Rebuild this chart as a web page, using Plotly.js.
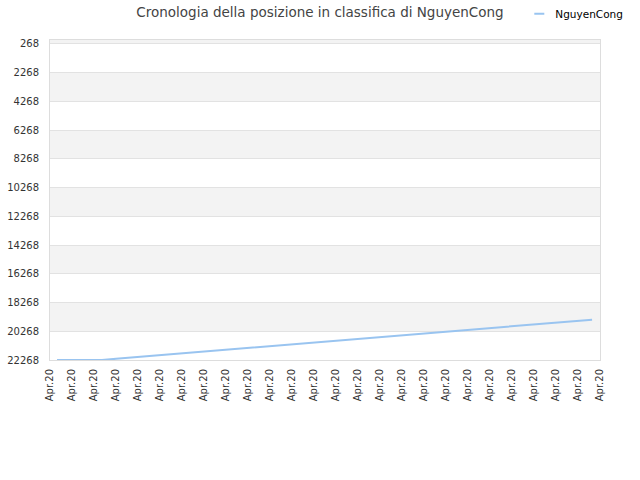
<!DOCTYPE html>
<html>
<head>
<meta charset="utf-8">
<script src="https://cdn.plot.ly/plotly-3.0.1.min.js"></script>
<style>
  html, body { margin: 0; padding: 0; background: #fff; }
  #chart { width: 640px; height: 480px; }
</style>
</head>
<body>
<div id="chart"></div>
<script>
// x positions are in tick-slot units (0 = first "Apr.20" label)
const pointX = [0.32, 2.36, 3, 4, 5, 6, 7, 8, 9, 10, 11, 12, 13, 14, 15, 16, 17, 18,
  19, 20, 21, 22, 23, 24, 24.64];
const rankValues = [22268, 22268, 22188, 22062, 21936, 21810, 21684, 21558, 21432,
  21306, 21180, 21054, 20928, 20802, 20676, 20550, 20424, 20298, 20172, 20046,
  19920, 19794, 19668, 19542, 19462];

const tickSlots = Array.from({ length: 26 }, (_, i) => i);
const tickLabels = tickSlots.map(() => 'Apr.20');
const yTicks = [268, 2268, 4268, 6268, 8268, 10268, 12268, 14268, 16268, 18268, 20268, 22268];

// alternating grey bands
const bands = [[0, 268], [2268, 4268], [6268, 8268], [10268, 12268], [14268, 16268], [18268, 20268]];

const FONT = 'DejaVu Sans, sans-serif';

Plotly.newPlot('chart', [{
  name: 'NguyenCong',
  x: pointX,
  y: rankValues,
  type: 'scatter',
  mode: 'lines',
  line: { color: '#99c4f0', width: 2 },
  hoverinfo: 'y',
}], {
  width: 640,
  height: 480,
  margin: { l: 50, r: 40, t: 40, b: 120, autoexpand: false },
  paper_bgcolor: '#fff',
  plot_bgcolor: '#fff',
  font: { family: FONT, size: 10, color: '#333' },
  title: {
    text: 'Cronologia della posizione in classifica di NguyenCong',
    font: { family: FONT, size: 13.5, color: '#444' },
    x: 0.5,
    xanchor: 'center',
    y: 0.975,
    yanchor: 'middle',
  },
  showlegend: true,
  legend: {
    x: 0.846,
    xanchor: 'left',
    y: 1.082,
    yanchor: 'middle',
    font: { family: FONT, size: 10.5, color: '#000' },
    bgcolor: 'rgba(0,0,0,0)',
  },
  xaxis: {
    range: [0, 25],
    tickvals: tickSlots,
    ticktext: tickLabels,
    tickangle: -90,
    showgrid: false,
    zeroline: false,
    showline: true,
    mirror: true,
    linecolor: '#ddd',
    linewidth: 1,
    ticks: '',
    ticklabelstandoff: 4,
    fixedrange: true,
    tickfont: { family: FONT, size: 10, color: '#333' },
  },
  yaxis: {
    range: [22268, 0],
    tickvals: yTicks,
    ticktext: yTicks.map(String),
    showgrid: true,
    gridcolor: '#e2e2e2',
    zeroline: false,
    showline: true,
    mirror: true,
    linecolor: '#ddd',
    linewidth: 1,
    ticks: '',
    ticklabelstandoff: 8,
    fixedrange: true,
    tickfont: { family: FONT, size: 10, color: '#333' },
  },
  shapes: bands.map(([a, b]) => ({
    type: 'rect',
    xref: 'paper',
    yref: 'y',
    x0: 0,
    x1: 1,
    y0: a,
    y1: b,
    fillcolor: '#f3f3f3',
    line: { width: 0 },
    layer: 'below',
  })),
}, { displayModeBar: false, staticPlot: true }).then((gd) => {
  // the reference uses a short legend swatch
  gd.querySelectorAll('.legendlines path').forEach((p) => p.setAttribute('d', 'M19,0h10'));
});
</script>
</body>
</html>
